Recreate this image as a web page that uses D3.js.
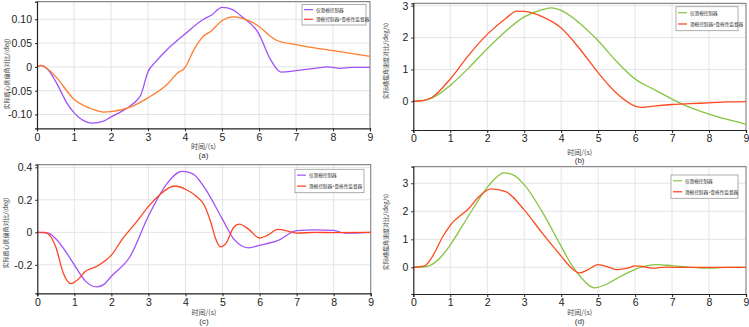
<!DOCTYPE html>
<html><head><meta charset="utf-8">
<script src="https://cdn.jsdelivr.net/npm/d3@7"></script>
<style>
body{margin:0;background:#fff;}
svg{display:block;font-family:"Liberation Sans",Arial,sans-serif;}
</style></head>
<body>
<script>
// ---------- data ----------
const xTicks = [0,1,2,3,4,5,6,7,8,9];
const legendLabels = ["仅滑模控制器","滑模控制器+鲁棒性监督器"];
const yLabelBeta = "实际质心侧偏角对比/(deg)";
const yLabelYaw = "实际横摆角速度对比/(deg/s)";
const xLabel = "时间/(s)";
const panelTags = ["(a)","(b)","(c)","(d)"];

// (a)
const aTicks = [-0.10,-0.05,0,0.05,0.10];
const aTickLabels = ["-0.10","-0.05","0","0.05","0.10"];
const aT1 = [0,0.1,0.3,0.5,0.7,0.8,1,1.2,1.5,1.8,2,2.3,2.5,2.7,2.8,3,3.2,3.5,4,4.5,4.7,5,5.3,5.5,6,6.3,6.6,7,7.5,7.85,8.2,8.5,9];
const aV1 = [0,0.003,-0.006,-0.03,-0.06,-0.075,-0.096,-0.11,-0.118,-0.114,-0.105,-0.093,-0.083,-0.07,-0.06,-0.01,0.01,0.035,0.069,0.10,0.108,0.125,0.12,0.108,0.069,0.017,-0.011,-0.008,-0.003,0.0,-0.003,-0.001,-0.001];
const aT2 = [0,0.1,0.3,0.5,1,1.5,1.8,2,2.5,3,3.5,3.85,3.95,4.05,4.2,4.5,4.7,5,5.3,5.6,6,6.3,6.5,7,8,9];
const aV2 = [0,0.003,-0.005,-0.02,-0.068,-0.089,-0.095,-0.094,-0.085,-0.065,-0.038,-0.01,-0.006,0.005,0.03,0.065,0.075,0.097,0.105,0.101,0.085,0.065,0.055,0.047,0.034,0.022];

// (b)
const bTicks = [0,1,2,3];
const bT1 = [0,0.25,0.5,1,1.5,2,2.5,3,3.5,3.75,4,4.5,5,5.5,6,6.5,7,7.5,8,8.5,9];
const bV1 = [0,0.02,0.1,0.5,1.05,1.65,2.2,2.65,2.88,2.93,2.85,2.45,1.9,1.25,0.7,0.38,0.07,-0.2,-0.4,-0.57,-0.72];
const bT2 = [0,0.25,0.5,1,1.5,2,2.5,2.8,3,3.5,4,4.5,5,5.5,6,6.2,6.5,7,7.5,8,8.5,9];
const bV2 = [0,0.02,0.12,0.7,1.45,2.1,2.6,2.83,2.82,2.65,2.3,1.65,0.9,0.25,-0.15,-0.19,-0.15,-0.1,-0.07,-0.05,-0.02,-0.01];

// (c)
const cTicks = [-0.2,0,0.2,0.4];
const cTT = ["-0.2","0","0.2","0.4"];
const cT1 = [0,0.3,0.5,0.8,1,1.3,1.6,1.8,2,2.5,3,3.5,3.9,4.2,4.5,5,5.3,5.7,6,6.5,7,7.5,8,8.3,8.5,9];
const cV1 = [0,-0.005,-0.04,-0.13,-0.2,-0.3,-0.335,-0.32,-0.27,-0.15,0.1,0.3,0.375,0.36,0.28,0.08,-0.04,-0.095,-0.08,-0.05,0.01,0.015,0.012,-0.005,-0.005,0];
const cT2 = [0,0.2,0.5,0.7,0.9,1.1,1.3,1.6,1.8,2,2.3,2.7,3,3.3,3.7,4,4.3,4.5,4.7,4.8,4.95,5.1,5.3,5.45,5.7,6,6.2,6.5,6.8,7,7.5,8,9];
const cV2 = [0,0,-0.09,-0.25,-0.315,-0.29,-0.24,-0.21,-0.18,-0.14,-0.04,0.07,0.16,0.23,0.285,0.265,0.22,0.17,0.05,-0.03,-0.09,-0.065,0.03,0.05,0.02,-0.035,-0.02,0.018,0.005,-0.005,0,-0.002,0];

// (d)
const dTicks = [0,1,2,3];
const dT1 = [0,0.3,0.5,0.8,1,1.5,2,2.2,2.45,2.7,3,3.5,4,4.3,4.5,4.9,5.2,5.5,6,6.3,6.6,7,7.5,8,8.2,8.5,9];
const dV1 = [0,0.02,0.1,0.45,0.8,1.85,2.85,3.15,3.37,3.3,2.95,1.95,0.75,0.05,-0.3,-0.73,-0.62,-0.4,-0.07,0.05,0.1,0.06,0,-0.03,-0.02,0,0];
const dT2 = [0,0.3,0.5,0.8,1,1.5,1.8,2.1,2.5,3,3.5,4,4.3,4.5,4.7,5,5.3,5.5,5.8,6,6.2,6.5,6.8,7,9];
const dV2 = [0,0.05,0.35,1.1,1.5,2.1,2.55,2.8,2.7,2.05,1.2,0.4,-0.05,-0.2,-0.1,0.1,0.0,-0.08,-0.03,0.05,0.03,-0.03,0.01,0,0];

// ---------- drawing ----------
const W = 749, H = 327;
const svg = d3.select("body").append("svg").attr("width",W).attr("height",H);

const zip = (t,v)=>t.map((x,i)=>[x,v[i]]);

const panels = [
  {box:[37,1.7,370,128.3], dom:[-0.129,0.137], ticks:aTicks, tl:aTickLabels, ylab:yLabelBeta, ylx:6, yly:74,
   s:[{d:zip(aT1,aV1),c:"#a052f7"},{d:zip(aT2,aV2),c:"#ff7d2e"}], legC:["#a052f7","#ff3b2a"],
   leg:[302,4.5,64,20.5], xly:146, tagy:155, tag:panelTags[0]},
  {box:[413.3,3.3,746,130], dom:[-0.9,3.075], ticks:bTicks, tl:bTicks.map(String), ylab:yLabelYaw, ylx:385, yly:61,
   s:[{d:zip(bT1,bV1),c:"#86c440"},{d:zip(bT2,bV2),c:"#ff4a1f"}], legC:["#86c440","#ff3b1f"],
   leg:[676,6.7,62,24], xly:151.5, tagy:160, tag:panelTags[1]},
  {box:[37.3,164.7,370.7,293.3], dom:[-0.375,0.416], ticks:cTicks, tl:cTT, ylab:yLabelBeta, ylx:5, yly:233,
   s:[{d:zip(cT1,cV1),c:"#a052f7"},{d:zip(cT2,cV2),c:"#ff4422"}], legC:["#a052f7","#ff3b1f"],
   leg:[295,169.3,69,23.4], xly:311.5, tagy:321, tag:panelTags[2]},
  {box:[413.3,166.7,746,294], dom:[-0.95,3.59], ticks:dTicks, tl:dTicks.map(String), ylab:yLabelYaw, ylx:385, yly:232,
   s:[{d:zip(dT1,dV1),c:"#86c440"},{d:zip(dT2,dV2),c:"#ff4a1f"}], legC:["#86c440","#ff3b1f"],
   leg:[671,175,67,23.3], xly:312, tagy:321, tag:panelTags[3]}
];

panels.forEach(p=>{
  const [x0,y0,x1,y1] = p.box;
  const x = d3.scaleLinear().domain([0,9]).range([x0,x1]);
  const y = d3.scaleLinear().domain(p.dom).range([y1,y0]);
  const g = svg.append("g");
  // grid
  g.selectAll(".gx").data(xTicks.slice(1,-1)).enter().append("line")
    .attr("x1",d=>x(d)).attr("x2",d=>x(d)).attr("y1",y0).attr("y2",y1)
    .attr("stroke","#e4e4e4").attr("stroke-width",1);
  g.selectAll(".gy").data(p.ticks).enter().append("line")
    .attr("x1",x0).attr("x2",x1).attr("y1",d=>y(d)).attr("y2",d=>y(d))
    .attr("stroke","#e4e4e4").attr("stroke-width",1);
  // top/right frame
  g.append("path").attr("d",`M${x0},${y0}H${x1}V${y1}`).attr("fill","none").attr("stroke","#8a8a8a").attr("stroke-width",1.2);
  // lines
  const line = d3.line().x(d=>x(d[0])).y(d=>y(d[1])).curve(d3.curveMonotoneX);
  p.s.forEach(s=>{
    g.append("path").datum(s.d).attr("d",line).attr("fill","none").attr("stroke",s.c).attr("stroke-width",1.3);
  });
  // axes
  const xa = g.append("g").attr("transform",`translate(0,${y1})`)
    .call(d3.axisBottom(x).tickValues(xTicks).tickSize(3).tickPadding(2).tickFormat(d3.format("d")));
  xa.selectAll("text").attr("font-size",10.5).attr("fill","#222");
  const ya = g.append("g").attr("transform",`translate(${x0},0)`)
    .call(d3.axisLeft(y).tickValues(p.ticks).tickSize(2).tickPadding(3).tickFormat((d,i)=>p.tl[i]));
  ya.selectAll("text").attr("font-size",10.5).attr("fill","#222");
  [xa,ya].forEach(a=>{a.select(".domain").attr("stroke","#222").attr("stroke-width",1.2);a.selectAll(".tick line").attr("stroke","#222");});
  // labels
  g.append("text").attr("transform",`translate(${p.ylx},${p.yly}) rotate(-90)`)
    .attr("text-anchor","middle").attr("dominant-baseline","central")
    .attr("font-size",6).attr("fill","#444").attr("font-family","Noto Sans CJK SC").text(p.ylab);
  g.append("text").attr("x",(x0+x1)/2).attr("y",p.xly).attr("text-anchor","middle").attr("dominant-baseline","central")
    .attr("font-size",7).attr("fill","#444").attr("font-family","Noto Sans CJK SC").text(xLabel);
  g.append("text").attr("x",(x0+x1)/2).attr("y",p.tagy).attr("text-anchor","middle").attr("dominant-baseline","central")
    .attr("font-size",8).attr("fill","#333").text(p.tag);
  // legend
  const [lx,ly,lw,lh] = p.leg;
  g.append("rect").attr("x",lx).attr("y",ly).attr("width",lw).attr("height",lh)
    .attr("fill","#fff").attr("stroke","#999").attr("stroke-width",0.8);
  legendLabels.forEach((t,i)=>{
    const yy = ly + lh*(i===0?0.25:0.72);
    g.append("line").attr("x1",lx+2).attr("x2",lx+11).attr("y1",yy).attr("y2",yy)
      .attr("stroke",p.legC[i]).attr("stroke-width",1.2);
    g.append("text").attr("x",lx+14).attr("y",yy).attr("dominant-baseline","central")
      .attr("font-size",4.6).attr("fill","#333").attr("font-family","Noto Sans CJK SC").text(t);
  });
});
</script>
</body></html>
